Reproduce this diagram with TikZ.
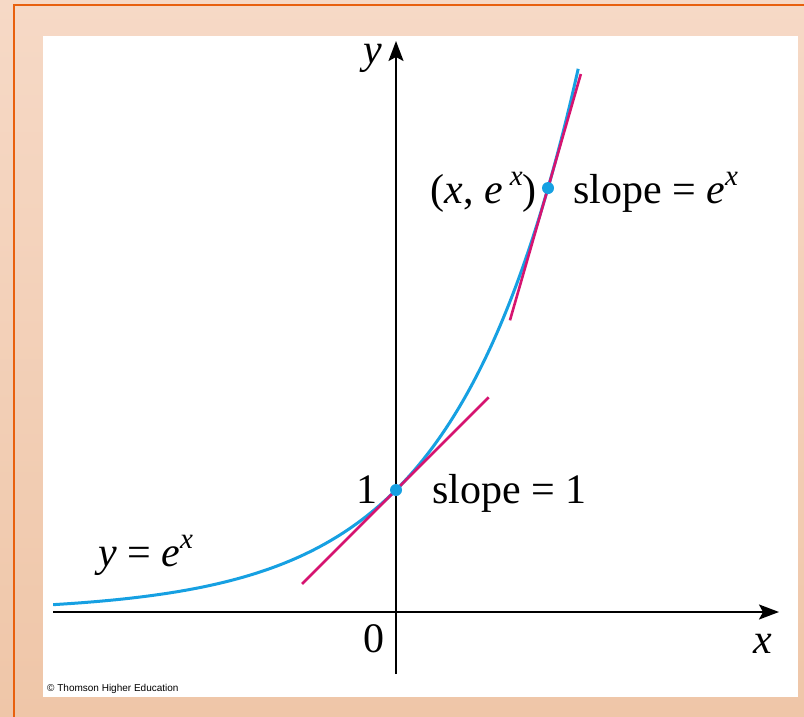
\documentclass[tikz,border=0pt]{standalone}
\usepackage{fontspec}
\setmainfont{Liberation Serif}
\newfontfamily\copyfont{Liberation Sans}
\usetikzlibrary{arrows.meta}
\definecolor{bgtop}{RGB}{246,217,198}
\definecolor{bgbot}{RGB}{239,198,168}
\definecolor{frameor}{RGB}{232,96,14}
\definecolor{curveblue}{RGB}{22,160,226}
\definecolor{tanmag}{RGB}{214,20,112}
\tikzset{
  axis/.style={line width=2pt, -{Stealth[length=20pt,width=15pt,inset=4pt]}},
  expcurve/.style={curveblue, line width=3pt},
  tangent/.style={tanmag, line width=2.6pt},
  dot/.style={circle, fill=curveblue, inner sep=0pt, minimum size=12pt},
  lbl/.style={font=\fontsize{42}{48}\selectfont, inner sep=0pt}
}
\newcommand{\supx}{\raisebox{0.42em}{\fontsize{29}{32}\selectfont\textit{x}}}
\begin{document}
\begin{tikzpicture}[x=1pt,y=-1pt]
\useasboundingbox (0,0) rectangle (804,717);
% background
\shade[top color=bgtop, bottom color=bgbot] (0,0) rectangle (804,717);
% frame lines
\draw[frameor, line width=2.2pt] (14,717) -- (14,5) -- (804,5);
% white panel
\fill[white] (43,36) rectangle (798,697);
% copyright
\node[anchor=base west, inner sep=0pt, font=\copyfont\fontsize{10}{12}\selectfont] (copy) at (47,691) {© Thomson Higher Education};
% axes
\coordinate (xl) at (53,612);
\coordinate (xr) at (779,612);
\coordinate (yb) at (396,674);
\coordinate (yt) at (396,41);
\draw[axis] (xl) -- (xr);
\draw[axis] (yb) -- (yt);
% plot
\begin{scope}[shift={(396,612)}, x=122pt, y=122pt]
  \draw[expcurve] plot[domain=-2.81:1.495, samples=120, smooth] (\x,{exp(\x)});
  \coordinate (t1a) at (-0.77,0.23);
  \coordinate (t1b) at (0.76,1.76);
  \coordinate (t2a) at (0.934,{3.475*(1+0.934-1.246)});
  \coordinate (t2b) at (1.515,{3.475*(1+1.515-1.246)});
  \draw[tangent] (t1a) -- (t1b);
  \draw[tangent] (t2a) -- (t2b);
  \node[dot] (p0) at (0,1) {};
  \node[dot] (p1) at (1.246,3.475) {};
\end{scope}
% labels
\node[lbl] (ylab) at (373,58) {\textit{y}};
\node[lbl] (xlab) at (763,644) {\textit{x}};
\node[lbl, anchor=base] (zero) at (374,652) {0};
\node[lbl, anchor=base east] (one) at (378,503) {1};
\node[lbl, anchor=base west] (s1) at (432,503) {slope = 1};
\node[lbl, anchor=base east] (pt) at (537,203) {(\textit{x}, \textit{e}\,\supx)};
\node[lbl, anchor=base west] (s2) at (573,203) {slope = \textit{e}\supx};
\node[lbl, anchor=base west] (eq) at (98,566) {\textit{y} = \textit{e}\supx};
\end{tikzpicture}
\end{document}
